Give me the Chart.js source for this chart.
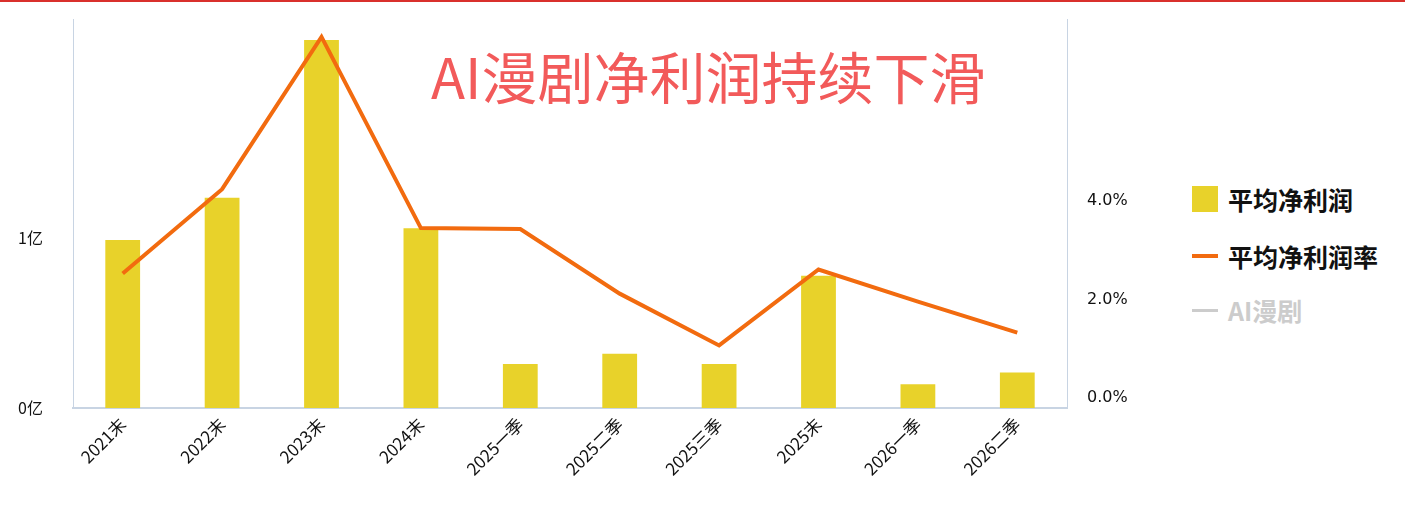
<!DOCTYPE html>
<html><head><meta charset="utf-8">
<script src="https://cdn.jsdelivr.net/npm/chart.js@4"></script>
<style>
body{margin:0;background:#fff;width:1405px;height:515px;overflow:hidden;position:relative;font-family:"Noto Sans CJK SC",sans-serif}
#bar{position:absolute;left:0;top:0;width:1405px;height:2px;background:#d9302c;z-index:2}
#wrap{position:absolute;left:0;top:-12px;width:1170px;height:527px}
#title{position:absolute;left:431px;top:38px;font-size:56px;color:#f25a5a;white-space:nowrap;line-height:74px}
.lg{position:absolute;left:1192px;font-size:25px;font-weight:bold;display:flex;align-items:center;white-space:nowrap}
</style></head><body>
<div id="bar"></div>
<div id="wrap"><canvas id="c" width="1170" height="527"></canvas></div>
<div id="title">AI漫剧净利润持续下滑</div>
<div class="lg" style="top:181px;color:#111"><span style="display:inline-block;width:26px;height:26px;background:#e8d22a;margin-right:10px"></span>平均净利润</div>
<div class="lg" style="top:238px;color:#111"><span style="display:inline-block;width:26px;height:4px;background:#f26b0f;margin-right:10px"></span>平均净利润率</div>
<div class="lg" style="top:292px;color:#ccc"><span style="display:inline-block;width:26px;height:3px;background:#ccc;margin-right:10px"></span>AI漫剧</div>
<script>
const categories=["2021末","2022末","2023末","2024末","2025一季","2025二季","2025三季","2025末","2026一季","2026二季"];
const profit=[0.99,1.24,2.17,1.06,0.26,0.32,0.26,0.78,0.14,0.21];
const margin=[2.53,4.24,7.33,3.45,3.43,2.12,1.07,2.61,1.96,1.33];
const leftTicks=[0,1];
const rightTicks=[0,2,4];
const axisColor="#c8d4e3";
new Chart(document.getElementById('c'),{
 data:{labels:categories,datasets:[
  {type:'line',data:margin,yAxisID:'y1',borderColor:'#f26b0f',borderWidth:4,pointRadius:0,tension:0,order:0},
  {type:'bar',data:profit,yAxisID:'y',backgroundColor:'#e8d22a',barPercentage:0.35,categoryPercentage:1,order:1}
 ]},
 options:{responsive:false,animation:false,
  layout:{padding:{top:8,left:0,right:0,bottom:0}},
  plugins:{legend:{display:false},tooltip:{enabled:false}},
  scales:{
   x:{grid:{display:false,drawTicks:false},border:{color:axisColor,width:2},
      ticks:{maxRotation:45,minRotation:45,color:'#111',font:{size:17,family:'"Noto Sans CJK SC"'},padding:6},
      afterFit(s){s.height=107}},
   y:{position:'left',min:0,max:2.29,grid:{display:false},border:{color:axisColor,width:1},
      afterBuildTicks(s){s.ticks=leftTicks.map(v=>({value:v}))},
      ticks:{color:'#111',font:{size:16,family:'"Noto Sans CJK SC"'},callback:v=>v+'亿',padding:22},
      afterFit(s){s.width=73}},
   y1:{position:'right',min:-0.2,max:7.68,grid:{display:false},border:{color:axisColor,width:1},
      afterBuildTicks(s){s.ticks=rightTicks.map(v=>({value:v}))},
      ticks:{color:'#111',font:{size:16,family:'"DejaVu Sans"'},callback:v=>v.toFixed(1)+'%',padding:12},
      afterFit(s){s.width=103}}
  }}
});
</script></body></html>
